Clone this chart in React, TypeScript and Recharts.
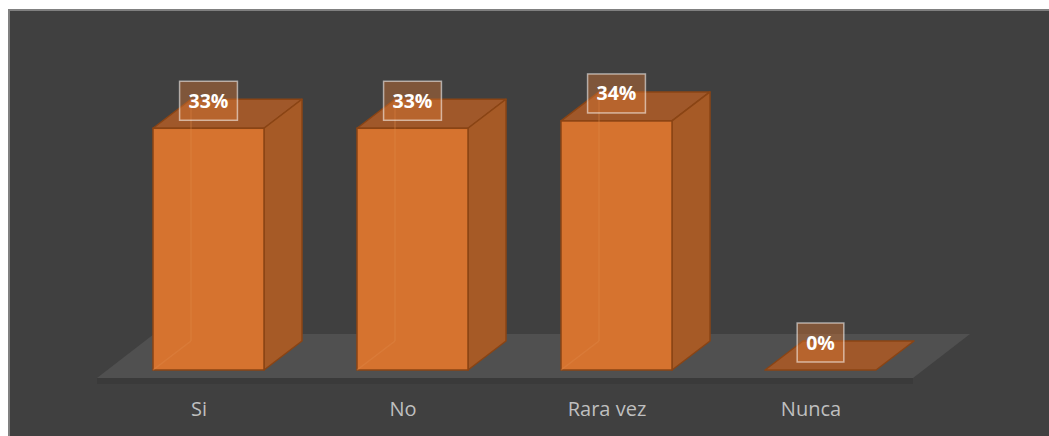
import React from "react";
import { BarChart, Bar, XAxis, YAxis, LabelList } from "recharts";

const categories = ["Si", "No", "Rara vez", "Nunca"];
const percentages = [33, 33, 34, 0];

const data = categories.map((c, i) => ({ cat: c, value: percentages[i] }));

const W = 1049;
const H = 436;
const AXIS_H = 30;
const MARGIN = { top: 77, right: 136, bottom: 66 - AXIS_H, left: 97 };
const PLOT_LEFT = MARGIN.left;
const PLOT_RIGHT = W - MARGIN.right;

// 3d look
const SHIFT = 9; // front face sits a bit right of the band centre
const DEPTH_X = 38;
const DEPTH_Y = -29;
const FLOOR_X = 57;
const FLOOR_Y = -44;

const FRONT = "#d6732f";
const SIDE = "#a65a26";
const TOP = "#a0582a";
const EDGE = "#8a4414";

const pts = (arr: number[][]) => arr.map((p) => p.join(",")).join(" ");

function Box3D(props: any) {
    const { x, y, width, height, index } = props;
    const l = x + SHIFT;
    const r = l + width;
    const top = y;
    const base = y + height;
    const floor =
        index === 0 ? (
            <g>
                <polygon
                    points={pts([
                        [PLOT_LEFT, base + 8],
                        [PLOT_RIGHT, base + 8],
                        [PLOT_RIGHT + FLOOR_X, base + 8 + FLOOR_Y],
                        [PLOT_LEFT + FLOOR_X, base + 8 + FLOOR_Y],
                    ])}
                    fill="#505050"
                />
                <rect x={PLOT_LEFT} y={base + 8} width={PLOT_RIGHT - PLOT_LEFT} height={6} fill="#3a3a3a" />
            </g>
        ) : null;

    return (
        <g>
            {floor}
            {/* top */}
            <polygon
                points={pts([
                    [l, top],
                    [r, top],
                    [r + DEPTH_X, top + DEPTH_Y],
                    [l + DEPTH_X, top + DEPTH_Y],
                ])}
                fill={TOP}
                stroke={EDGE}
                strokeWidth={1.5}
                strokeLinejoin="round"
            />
            {height > 0 && (
                <>
                    {/* side */}
                    <polygon
                        points={pts([
                            [r, top],
                            [r + DEPTH_X, top + DEPTH_Y],
                            [r + DEPTH_X, base + DEPTH_Y],
                            [r, base],
                        ])}
                        fill={SIDE}
                        stroke={EDGE}
                        strokeWidth={1.5}
                        strokeLinejoin="round"
                    />
                    {/* front */}
                    <rect x={l} y={top} width={width} height={height} fill={FRONT} stroke={EDGE} strokeWidth={1.5} />
                    {/* hidden edges seen through the face */}
                    <line x1={l + DEPTH_X} y1={top + DEPTH_Y} x2={l + DEPTH_X} y2={base + DEPTH_Y} stroke="#e08a4a" strokeOpacity={0.35} strokeWidth={1.5} />
                    <line x1={l} y1={base} x2={l + DEPTH_X} y2={base + DEPTH_Y} stroke="#e08a4a" strokeOpacity={0.35} strokeWidth={1.5} />
                </>
            )}
        </g>
    );
}

const FS = 19.5;
const textWidth = (s: string) =>
    s.split("").reduce((acc, ch) => acc + (ch === "%" ? 0.899 : 0.572) * FS, 0);

function ValueBox(props: any) {
    const { x, y, width, value } = props;
    const label = `${value}%`;
    const bw = textWidth(label) + 18;
    const bh = 39;
    const cx = x + width / 2 + SHIFT;
    const bottom = y - 8;
    return (
        <g>
            <rect
                x={cx - bw / 2}
                y={bottom - bh}
                width={bw}
                height={bh}
                fill="rgba(215,116,50,0.42)"
                stroke="rgba(255,255,255,0.55)"
                strokeWidth={1.5}
            />
            <text
                x={cx}
                y={bottom - bh / 2 + 7}
                textAnchor="middle"
                fill="#ffffff"
                fontFamily="'Open Sans', sans-serif"
                fontWeight={700}
                fontSize={FS}
            >
                {label}
            </text>
        </g>
    );
}

function CatTick(props: any) {
    const { x, y, payload } = props;
    return (
        <text
            x={x}
            y={y + 46}
            textAnchor="middle"
            fill="#bfbfbf"
            fontFamily="'Open Sans', sans-serif"
            fontSize={20}
        >
            {payload.value}
        </text>
    );
}

export default function App() {
    return (
        <div style={{ position: "absolute", left: 0, top: 0, width: W, height: H, background: "#ffffff" }}>
            <div
                style={{
                    position: "absolute",
                    left: 8,
                    top: 9,
                    width: W - 8,
                    height: H - 9,
                    boxSizing: "border-box",
                    background: "#404040",
                    borderTop: "2px solid #808080",
                    borderLeft: "2px solid #808080",
                }}
            />
            <div style={{ position: "absolute", left: 0, top: 0 }}>
                <BarChart width={W} height={H} data={data} margin={MARGIN} barCategoryGap={0}>
                    <XAxis
                        dataKey="cat"
                        height={AXIS_H}
                        axisLine={false}
                        tickLine={false}
                        tickSize={0}
                        tickMargin={0}
                        tick={<CatTick />}
                        interval={0}
                    />
                    <YAxis hide domain={[0, 40]} />
                    <Bar dataKey="value" barSize={111} shape={<Box3D />} isAnimationActive={false}>
                        <LabelList dataKey="value" content={<ValueBox />} />
                    </Bar>
                </BarChart>
            </div>
        </div>
    );
}
